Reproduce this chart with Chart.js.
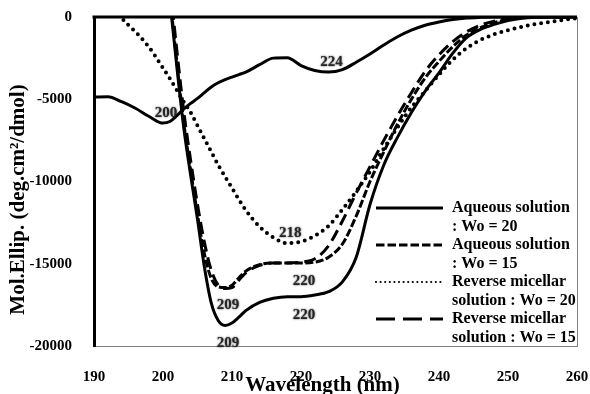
<!DOCTYPE html>
<html>
<head>
<meta charset="utf-8">
<script src="https://cdn.jsdelivr.net/npm/chart.js@4.4.1/dist/chart.umd.min.js"></script>
<style>
html, body { margin: 0; padding: 0; background: #fff; }
</style>
</head>
<body>
<canvas id="cdChart" width="590" height="394"></canvas>
<script>
// DATA //
var wavelengths = [190,192,194,196,198,200,201,202,203,204,205,206,207,208,209,210,211,212,
   214,216,218,220,222,224,226,228,230,232,234,236,238,240,242,244,246,248,250,252,254,256,258,260];

// unlabelled solid trace (minima 200 / 224)
var nativeCurve = [-4860,-4850,-5150,-5550,-6050,-6450,-6350,-6000,-5600,-5250,-4950,-4600,-4250,-4000,-3800,-3650,-3500,-3350,
   -2900,-2500,-2480,-2950,-3250,-3350,-3200,-2750,-2250,-1700,-1200,-800,-500,-300,-150,-60,-20,0,0,0,0,0,0,0];
var aqueousWo20 = [null,null,null,null,null,5000,1000,-3000,-6700,-9600,-12300,-15200,-17400,-18450,-18750,-18600,-18250,-17850,
   -17350,-17100,-17000,-17000,-16900,-16700,-16100,-14600,-11400,-9000,-7300,-5800,-4500,-3400,-2200,-1250,-750,-450,-220,-70,-10,0,0,0];
var aqueousWo15 = [null,null,null,null,null,5500,1300,-2700,-6400,-9300,-12000,-14400,-15900,-16400,-16450,-16300,-15850,-15450,
   -15050,-14950,-14950,-14950,-14900,-14600,-13800,-12100,-10000,-8200,-6500,-5000,-3700,-2700,-1800,-1100,-650,-350,-150,-50,0,0,0,0];
var reverseWo20 = [2600,1300,-50,-900,-1850,-3100,-3750,-4450,-5150,-5800,-6600,-7400,-8200,-9000,-9700,-10400,-11100,-11750,
   -12750,-13400,-13750,-13650,-13300,-12700,-11700,-10600,-9400,-8000,-6700,-5500,-4500,-3500,-2600,-1900,-1400,-1050,-800,-600,-430,-300,-180,-80];
var reverseWo15 = [null,null,null,null,null,6000,2000,-2000,-5700,-8700,-11400,-13700,-15400,-16300,-16500,-16450,-16000,-15550,
   -15100,-14950,-14950,-14900,-14700,-13900,-12400,-10700,-9100,-7500,-6000,-4600,-3300,-2300,-1500,-900,-500,-250,-100,-30,0,0,0,0];

var seriesNames = ['', 'Aqueous solution\n: Wo = 20', 'Aqueous solution\n: Wo = 15',
   'Reverse micellar\nsolution : Wo = 20', 'Reverse micellar\nsolution : Wo = 15'];
var xTicks = [190,200,210,220,230,240,250,260];
var yTicks = [-20000,-15000,-10000,-5000,0];
// [dataset index, wavelength] of the peak labels
var peakLabels = [[0,200],[0,224],[3,218],[2,209],[2,220],[1,209],[1,220]];

var xTitle = 'Wavelength (nm)';
var yTitle = 'Mol.Ellip. (deg.cm\u00b2/dmol)';

// STYLES //
var serif = '"Liberation Serif", "Times New Roman", serif';
Chart.defaults.font.family = serif;
Chart.defaults.font.weight = 'bold';
Chart.defaults.color = '#000';

var lineStyles = [
   { dash: [], width: 3, cap: 'butt' },
   { dash: [], width: 3, cap: 'butt' },
   { dash: [8, 2.5], width: 3, cap: 'butt' },
   { dash: [0, 6.8], width: 4, cap: 'round' },
   { dash: [12, 6], width: 3, cap: 'butt' }
];
var legendStyles = [null,
   { dash: [], width: 3, cap: 'butt' },
   { dash: [8.5, 3], width: 3, cap: 'butt' },
   { dash: [0, 4.6], width: 2.2, cap: 'round' },
   { dash: [19, 8], width: 3, cap: 'butt' }
];

function toPoints(values) {
   return values.map((v, i) => ({ x: wavelengths[i], y: v }));
}

var allSeries = [nativeCurve, aqueousWo20, aqueousWo15, reverseWo20, reverseWo15];
var datasets = allSeries.map((vals, i) => ({
   label: seriesNames[i],
   data: toPoints(vals),
   borderColor: '#000',
   borderWidth: lineStyles[i].width,
   borderDash: lineStyles[i].dash,
   borderCapStyle: lineStyles[i].cap,
   pointRadius: 0,
   fill: false,
   cubicInterpolationMode: 'monotone'
}));

// PLUGINS //
var framePlugin = {
   id: 'frame',
   beforeDatasetsDraw(chart) {
      const { ctx, chartArea: a, scales } = chart;
      ctx.save();
      ctx.strokeStyle = '#7f7f7f';
      ctx.lineWidth = 1;
      ctx.beginPath();
      ctx.moveTo(a.right + 0.5, a.top);
      ctx.lineTo(a.right + 0.5, a.bottom + 0.5);
      ctx.stroke();
      const y0 = scales.y.getPixelForValue(0);
      ctx.strokeStyle = '#000';
      ctx.lineWidth = 3;
      ctx.beginPath();
      ctx.moveTo(a.left - 1.5, y0);
      ctx.lineTo(a.right, y0);
      ctx.stroke();
      ctx.restore();
   }
};

var peakPlugin = {
   id: 'peaks',
   afterDatasetsDraw(chart) {
      const { ctx, scales } = chart;
      ctx.save();
      ctx.font = 'bold 15px ' + serif;
      ctx.fillStyle = '#262626';
      ctx.shadowColor = 'rgba(0,0,0,0.75)';
      ctx.shadowBlur = 2;
      ctx.textAlign = 'center';
      ctx.textBaseline = 'middle';
      peakLabels.forEach(([ds, wl]) => {
         const idx = wavelengths.indexOf(wl);
         const v = allSeries[ds][idx];
         const px = scales.x.getPixelForValue(wl);
         const py = scales.y.getPixelForValue(v);
         const above = (ds === 0 || ds === 3);
         ctx.fillText(String(wl), px + 3, py + (above ? -10 : 18));
      });
      ctx.restore();
   }
};

var legendPlugin = {
   id: 'sideLegend',
   afterDraw(chart) {
      const { ctx, chartArea: a } = chart;
      ctx.save();
      ctx.font = 'bold 16px ' + serif;
      ctx.fillStyle = '#000';
      ctx.textAlign = 'left';
      ctx.textBaseline = 'middle';
      let row = 0;
      seriesNames.forEach((name, i) => {
         if (!name) return;
         const y = a.bottom - 138 + row * 37;
         const st = legendStyles[i];
         ctx.strokeStyle = '#000';
         ctx.lineWidth = st.width;
         ctx.lineCap = st.cap;
         ctx.setLineDash(st.dash);
         ctx.beginPath();
         ctx.moveTo(a.right - 201, y);
         ctx.lineTo(a.right - 134, y);
         ctx.stroke();
         ctx.setLineDash([]);
         name.split('\n').forEach((line, k) => {
            ctx.fillText(line, a.right - 125, y + k * 18.5);
         });
         row++;
      });
      ctx.restore();
   }
};

var titlePlugin = {
   id: 'axisTitles',
   afterDraw(chart) {
      const { ctx, chartArea: a } = chart;
      ctx.save();
      ctx.font = 'bold 21px ' + serif;
      ctx.fillStyle = '#000';
      ctx.textAlign = 'center';
      ctx.textBaseline = 'alphabetic';
      ctx.fillText(xTitle, (a.left + a.right) / 2 - 13, a.bottom + 45);
      ctx.translate(a.left - 70, (a.top + a.bottom) / 2 + 18);
      ctx.rotate(-Math.PI / 2);
      ctx.fillText(yTitle, 0, 0);
      ctx.restore();
   }
};

// CHART //
const cdChart = new Chart(document.getElementById('cdChart').getContext('2d'), {
   type: 'line',
   data: { datasets: datasets },
   options: {
      responsive: false,
      animation: false,
      layout: { padding: { top: 17, right: 13, bottom: 0, left: 0 } },
      plugins: {
         legend: { display: false },
         tooltip: { enabled: false }
      },
      scales: {
         x: {
            type: 'linear',
            min: 190,
            max: 260,
            afterBuildTicks: s => { s.ticks = xTicks.map(v => ({ value: v })); },
            afterFit: s => { s.height = 48; s.paddingLeft = 0; s.paddingRight = 0; },
            grid: { display: false, drawTicks: false },
            border: { display: true, color: '#7f7f7f', width: 1 },
            ticks: { autoSkip: false, maxRotation: 0, padding: 22, font: { size: 15, weight: 'bold' },
               callback: v => String(v) }
         },
         y: {
            type: 'linear',
            min: -20000,
            max: 0,
            afterBuildTicks: s => { s.ticks = yTicks.map(v => ({ value: v })); },
            afterFit: s => { s.width = 94; s.paddingTop = 0; s.paddingBottom = 0; },
            grid: { display: false, drawTicks: false },
            border: { display: true, color: '#000', width: 3 },
            ticks: { padding: 22, font: { size: 15, weight: 'bold' }, callback: v => String(v) }
         }
      }
   },
   plugins: [framePlugin, peakPlugin, legendPlugin, titlePlugin]
});
</script>
</body>
</html>
